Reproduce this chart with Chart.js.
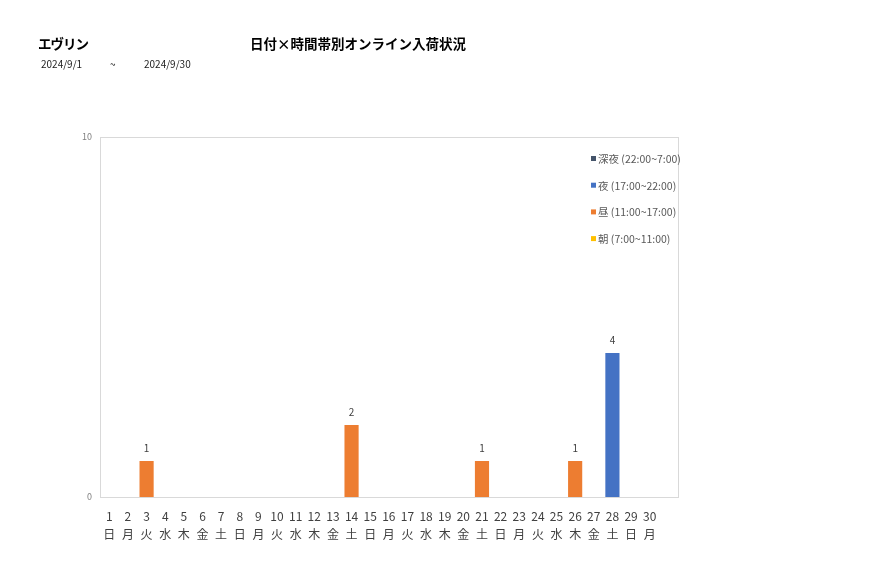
<!DOCTYPE html>
<html>
<head>
<meta charset="utf-8">
<script src="https://cdn.jsdelivr.net/npm/chart.js@4.4.1/dist/chart.umd.min.js"></script>
<style>
    body { margin: 0; background: #fff; font-family: "Noto Sans CJK JP", "Noto Sans", sans-serif; }
    #wrap { position: relative; width: 877px; height: 578px; }
    .txt { position: absolute; color: #000; white-space: nowrap; }
    .ttl { font-size: 13.5px; font-weight: bold; top: 33px; }
    .sub { font-size: 10px; top: 56px; color: #222; }
</style>
</head>
<body>
<div id="wrap">
    <canvas id="chart" width="877" height="578"></canvas>
    <div class="txt ttl" style="left:38px; letter-spacing:-1px;">エヴリン</div>
    <div class="txt ttl" style="left:250px;">日付×時間帯別オンライン入荷状況</div>
    <div class="txt sub" style="left:41px;">2024/9/1</div>
    <div class="txt sub" style="left:110px;">~</div>
    <div class="txt sub" style="left:144px;">2024/9/30</div>
</div>
<script>
const days = ['1','2','3','4','5','6','7','8','9','10','11','12','13','14','15','16','17','18','19','20','21','22','23','24','25','26','27','28','29','30'];
const weekdays = ['日','月','火','水','木','金','土','日','月','火','水','木','金','土','日','月','火','水','木','金','土','日','月','火','水','木','金','土','日','月'];
const seriesNames = ['深夜 (22:00~7:00)', '夜 (17:00~22:00)', '昼 (11:00~17:00)', '朝 (7:00~11:00)'];
const lateNight = [0,0,0,0,0,0,0,0,0,0,0,0,0,0,0,0,0,0,0,0,0,0,0,0,0,0,0,0,0,0];
const night     = [0,0,0,0,0,0,0,0,0,0,0,0,0,0,0,0,0,0,0,0,0,0,0,0,0,0,0,4,0,0];
const daytime   = [0,0,1,0,0,0,0,0,0,0,0,0,0,2,0,0,0,0,0,0,1,0,0,0,0,1,0,0,0,0];
const morning   = [0,0,0,0,0,0,0,0,0,0,0,0,0,0,0,0,0,0,0,0,0,0,0,0,0,0,0,0,0,0];
const yTicks = [0, 10];

const colors = ['#44546A', '#4472C4', '#ED7D31', '#FFC000'];
const labels = days.map((d, i) => [d, weekdays[i]]);

// plot frame (wider than the category band), totals above bars, legend inside
const extras = {
    id: 'extras',
    afterDraw(chart) {
        const ctx = chart.ctx;
        const a = chart.chartArea;
        ctx.save();
        ctx.strokeStyle = '#d9d9d9';
        ctx.lineWidth = 1;
        ctx.strokeRect(Math.round(a.left) + 0.5, Math.round(a.top) + 0.5, Math.round(a.right - a.left) + 19, Math.round(a.bottom - a.top));

        // totals
        ctx.fillStyle = '#404040';
        ctx.font = '10px "Noto Sans CJK JP", sans-serif';
        ctx.textAlign = 'center';
        ctx.textBaseline = 'middle';
        const y = chart.scales.y;
        const x = chart.scales.x;
        days.forEach((d, i) => {
            const total = chart.data.datasets.reduce((s, ds) => s + ds.data[i], 0);
            if (total > 0) {
                ctx.fillText(String(total), x.getPixelForValue(i), y.getPixelForValue(total) - 13);
            }
        });

        // legend
        ctx.textAlign = 'left';
        ctx.font = '10.5px "Noto Sans CJK JP", sans-serif';
        chart.data.datasets.forEach((ds, k) => {
            const ly = 159 + k * 26.7;
            ctx.fillStyle = ds.backgroundColor;
            ctx.fillRect(591, ly - 3, 5, 5);
            ctx.fillStyle = '#595959';
            ctx.fillText(ds.label, 598, ly);
        });
        ctx.restore();
    }
};

new Chart(document.getElementById('chart'), {
    type: 'bar',
    data: {
        labels: labels,
        datasets: [
            { label: seriesNames[0], data: lateNight, backgroundColor: colors[0] },
            { label: seriesNames[1], data: night, backgroundColor: colors[1] },
            { label: seriesNames[2], data: daytime, backgroundColor: colors[2] },
            { label: seriesNames[3], data: morning, backgroundColor: colors[3] }
        ]
    },
    options: {
        responsive: false,
        animation: false,
        layout: { padding: { left: 60, top: 137, right: 218, bottom: 31 } },
        datasets: { bar: { barPercentage: 0.76, categoryPercentage: 1 } },
        plugins: {
            legend: { display: false },
            tooltip: { enabled: false }
        },
        scales: {
            x: {
                stacked: true,
                grid: { display: false },
                border: { display: false },
                ticks: {
                    color: '#404040',
                    font: { size: 12, family: '"Noto Sans CJK JP", sans-serif', lineHeight: 1.5 },
                    maxRotation: 0,
                    autoSkip: false,
                    padding: 2
                },
                afterFit(s) { s.height = 50; }
            },
            y: {
                stacked: true,
                min: 0,
                max: 10,
                grid: { display: false },
                border: { display: false },
                afterBuildTicks(s) { s.ticks = yTicks.map(v => ({ value: v })); },
                ticks: {
                    color: '#808080',
                    font: { size: 9, family: '"Noto Sans CJK JP", sans-serif' },
                    padding: 0
                },
                afterFit(s) { s.width = 40; }
            }
        }
    },
    plugins: [extras]
});
</script>
</body>
</html>
